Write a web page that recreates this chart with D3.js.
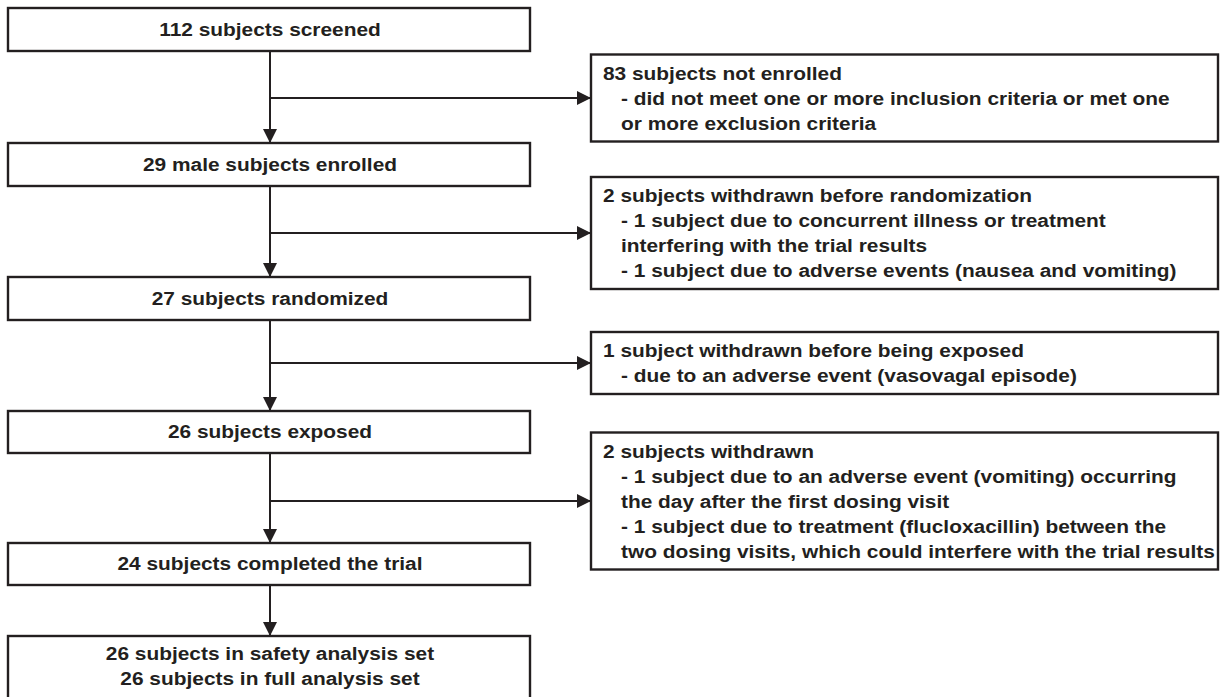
<!DOCTYPE html>
<html>
<head>
<meta charset="utf-8">
<script src="https://cdn.jsdelivr.net/npm/d3@7"></script>
<style>
  html, body { margin: 0; padding: 0; background: #fff; }
  text { font-family: "Liberation Sans", Arial, sans-serif; font-weight: bold; fill: #231f20; }
</style>
</head>
<body>
<div id="flujo"></div>
<script>
// Pasos principales del diagrama (columna izquierda)
const pasos = [
  ["112 subjects screened"],
  ["29 male subjects enrolled"],
  ["27 subjects randomized"],
  ["26 subjects exposed"],
  ["24 subjects completed the trial"],
  ["26 subjects in safety analysis set", "26 subjects in full analysis set"]
];

// Cajas laterales (salidas), una por cada hueco entre pasos
const salidas = [
  ["83 subjects not enrolled",
   "- did not meet one or more inclusion criteria or met one",
   "or more exclusion criteria"],
  ["2 subjects withdrawn before randomization",
   "- 1 subject due to concurrent illness or treatment",
   "interfering with the trial results",
   "- 1 subject due to adverse events (nausea and vomiting)"],
  ["1 subject withdrawn before being exposed",
   "- due to an adverse event (vasovagal episode)"],
  ["2 subjects withdrawn",
   "- 1 subject due to an adverse event (vomiting) occurring",
   "the day after the first dosing visit",
   "- 1 subject due to treatment (flucloxacillin) between the",
   "two dosing visits, which could interfere with the trial results"]
];

// layout (no es dato)
const W = 1223, H = 697;
const topes = [8, 143, 277, 411, 543, 636];    // borde superior de cada paso
const altos = [43, 43, 43, 42, 42, 70];
const flechaY = [98, 233, 363, 501];           // altura de cada flecha lateral
const colorLinea = "#231f20";
const interlinea = 25;
const tamLetra = 18;
const estirar = 1.16;   // la letra del original es mas ancha

const x = d3.scaleLinear().domain([0, 1]).range([8, 530]);        // columna izquierda
const xs = d3.scaleLinear().domain([0, 1]).range([591, 1218]);    // columna derecha
const xCentro = 270;

var svg = d3.select("#flujo").append("svg")
  .attr("width", W).attr("height", H);

// punta de flecha
svg.append("defs").append("marker")
  .attr("id", "punta")
  .attr("viewBox", "0 0 14 14")
  .attr("refX", 14).attr("refY", 7)
  .attr("markerWidth", 14).attr("markerHeight", 14)
  .attr("markerUnits", "userSpaceOnUse")
  .attr("orient", "auto")
  .append("path")
  .attr("d", "M0,0 L14,7 L0,14 Z")
  .attr("fill", colorLinea);

// flechas verticales entre pasos
for (var i = 0; i < pasos.length - 1; i++) {
  svg.append("line")
    .attr("x1", xCentro).attr("x2", xCentro)
    .attr("y1", topes[i] + altos[i]).attr("y2", topes[i + 1])
    .attr("stroke", colorLinea).attr("stroke-width", 2)
    .attr("marker-end", "url(#punta)");
}

// flechas horizontales hacia las salidas
flechaY.forEach(function (y) {
  svg.append("line")
    .attr("x1", xCentro).attr("x2", xs(0))
    .attr("y1", y).attr("y2", y)
    .attr("stroke", colorLinea).attr("stroke-width", 2)
    .attr("marker-end", "url(#punta)");
});

// cajas principales
var g = svg.selectAll("g.paso")
  .data(pasos)
  .enter().append("g")
  .attr("class", "paso");

g.append("rect")
  .attr("x", x(0)).attr("width", x(1) - x(0))
  .attr("y", (d, i) => topes[i]).attr("height", (d, i) => altos[i])
  .attr("fill", "#fff").attr("stroke", colorLinea).attr("stroke-width", 2.4);

g.each(function (d, i) {
  var n = d.length;
  var cy = topes[i] + (n > 1 ? 30 : altos[i] / 2);
  d3.select(this).selectAll("text")
    .data(d)
    .enter().append("text")
    .attr("transform", (t, j) => "translate(" + xCentro + "," + (cy + 6 + (j - (n - 1) / 2) * interlinea) + ") scale(" + estirar + ",1)")
    .attr("text-anchor", "middle")
    .attr("font-size", tamLetra)
    .text(t => t);
});

// cajas laterales
var s = svg.selectAll("g.salida")
  .data(salidas)
  .enter().append("g")
  .attr("class", "salida");

s.each(function (d, i) {
  var alto = d.length * interlinea + 12;
  var top = flechaY[i] - alto / 2;
  var gg = d3.select(this);
  gg.append("rect")
    .attr("x", xs(0)).attr("width", xs(1) - xs(0))
    .attr("y", top).attr("height", alto)
    .attr("fill", "#fff").attr("stroke", colorLinea).attr("stroke-width", 2.4);
  gg.selectAll("text")
    .data(d)
    .enter().append("text")
    .attr("transform", (t, j) => "translate(" + (j == 0 ? xs(0) + 12 : xs(0) + 30) + "," + (top + 25 + j * interlinea) + ") scale(" + estirar + ",1)")
    .attr("font-size", tamLetra)
    .text(t => t);
});
</script>
</body>
</html>
